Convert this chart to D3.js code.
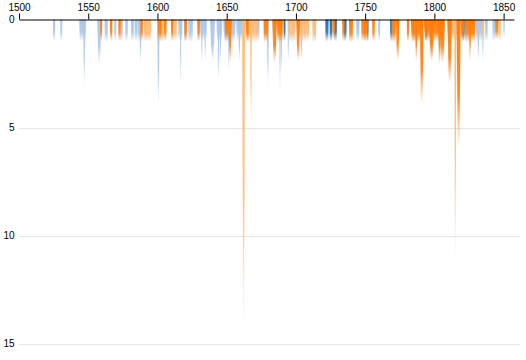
<!DOCTYPE html>
<html>
<head>
<meta charset="utf-8">
<script src="https://cdn.jsdelivr.net/npm/d3@7"></script>
<style>
  body { margin: 0; background: #fff; }
  svg { display: block; font-family: "Liberation Sans", Arial, sans-serif; }
  .axis text { font-size: 10px; fill: #000; }
  .grid line { stroke: #e5e5e5; shape-rendering: crispEdges; }
</style>
</head>
<body>
<div id="chart"></div>
<script>
// tick labels
const yearTicks = [1500, 1550, 1600, 1650, 1700, 1750, 1800, 1850];
const depthTicks = [0, 5, 10, 15];

// categories & colours
const categories = ['lightBlue', 'darkBlue', 'lightOrange', 'orange'];
const colors = ['#aec7e8', '#1f77b4', '#ffbb78', '#ff7f0e'];

// series: [start year, end year, depth]
const lightBlue = [
  [1524.5, 1526.2, 1], [1529.8, 1531.3, 1], [1543.5, 1548.4, 1], [1546.4, 1547.9, 3],
  [1556.5, 1559.4, 2.05], [1561.8, 1564.2, 1.05], [1568.8, 1570.3, 1], [1573.6, 1575, 1],
  [1576.7, 1578.6, 1], [1580.9, 1583, 1], [1583.5, 1585.5, 1], [1585.5, 1587.6, 1],
  [1587, 1588.5, 2], [1591, 1592.5, 1], [1599.9, 1601.5, 3.9], [1603, 1604.5, 1.05],
  [1615, 1618, 1], [1616.3, 1617.2, 2.9], [1619, 1621, 1], [1622.2, 1625.6, 1.05],
  [1630.7, 1635.7, 1], [1631.6, 1632.6, 2], [1634, 1635, 1.9], [1638, 1641.5, 1.9],
  [1642.7, 1646.8, 1], [1643.4, 1644.8, 2.8], [1645, 1646, 2], [1647.5, 1656.4, 1.05],
  [1651, 1652, 2.4], [1656.9, 1662, 1], [1658.5, 1659.8, 2], [1671.3, 1673.7, 1],
  [1679, 1680.5, 3], [1688, 1689, 3.2], [1689, 1690, 2.4], [1694, 1695, 1.9],
  [1703, 1705, 1.9], [1706, 1707, 1], [1743.5, 1745.9, 1], [1759.4, 1760.9, 1],
  [1797, 1799, 2], [1829.9, 1834.7, 1], [1831, 1832.5, 1.9], [1834.5, 1835.5, 1.9],
  [1836.6, 1838.5, 1], [1841.9, 1843.8, 1], [1849.8, 1850.8, 0.8]
];
const darkBlue = [
  [1691, 1692.5, 1], [1721.2, 1723.6, 1], [1724.3, 1726.2, 1], [1727.6, 1729.6, 1],
  [1734.6, 1736.6, 1], [1751.2, 1752.5, 1], [1768, 1769.5, 1], [1793.1, 1795, 1],
  [1820, 1822, 1]
];
const lightOrange = [
  [1590, 1594.8, 1], [1593.4, 1595.3, 1], [1602, 1604.5, 1], [1611.5, 1614, 1],
  [1661.2, 1663.2, 13.9], [1663.2, 1672.8, 1.05], [1667, 1668.2, 4.9],
  [1694.4, 1699.7, 1.05], [1702.6, 1709.8, 1], [1711.8, 1714.7, 1.05], [1784, 1786, 1],
  [1809, 1818.6, 1], [1810, 1811, 2.9], [1814.4, 1815.8, 10.9], [1834, 1836, 1],
  [1846.2, 1848, 1]
];
const orange = [
  [1558.7, 1560.1, 1], [1565.7, 1567.4, 1], [1571.7, 1573.6, 1], [1587.6, 1589.5, 1],
  [1600, 1603, 1], [1604.7, 1606.6, 1], [1609.7, 1611.6, 1], [1619.4, 1621.3, 1],
  [1628.7, 1630.7, 1], [1648.5, 1653.5, 1], [1651.5, 1653.5, 2], [1664, 1666, 1],
  [1676.6, 1680, 1.05], [1682.9, 1686.3, 2], [1686.3, 1690.6, 1.05], [1700.2, 1703, 1.9],
  [1726.2, 1728.2, 0.9], [1733.4, 1735.1, 1], [1738.3, 1741.2, 1.05], [1747.2, 1750.7, 1],
  [1749.3, 1752, 1], [1755.1, 1757, 1], [1769, 1772.2, 1.05], [1772.2, 1774.8, 1.9],
  [1780.1, 1781.8, 1], [1783, 1790.2, 1.05], [1786, 1787.8, 1.9], [1789.5, 1792.2, 3.9],
  [1792.2, 1807.1, 1], [1796, 1800, 1.85], [1802.6, 1805, 2.05], [1804, 1807.7, 2],
  [1809.5, 1812.6, 2.9], [1816, 1819, 5.9], [1819, 1821.5, 1], [1821.7, 1829.9, 1.05],
  [1825, 1826.5, 1.9], [1843.8, 1846.2, 0.9]
];
const series = [lightBlue, darkBlue, lightOrange, orange];

// layout
const width = 526, height = 360;
const margin = {t: 19.5, r: 12, b: 16, l: 19};

const svg = d3.select('#chart').append('svg')
  .attr('width', width)
  .attr('height', height);

const scaleX = d3.scaleLinear()
  .domain([1500, 1857.5])
  .range([margin.l, width - margin.r]);
const scaleY = d3.scaleLinear()
  .domain([0, 15])
  .range([margin.t, 344]);

// gradients, fading towards the bottom of each shape
const defs = svg.append('defs');
categories.forEach((c, i) => {
  const g = defs.append('linearGradient')
    .attr('id', 'grad-' + c)
    .attr('x1', 0).attr('y1', 0).attr('x2', 0).attr('y2', 1);
  g.append('stop').attr('offset', '0%').attr('stop-color', colors[i]).attr('stop-opacity', 1);
  g.append('stop').attr('offset', '60%').attr('stop-color', colors[i]).attr('stop-opacity', 0.9);
  g.append('stop').attr('offset', '100%').attr('stop-color', colors[i]).attr('stop-opacity', 0.03);
});

// grid lines
svg.append('g')
  .attr('class', 'grid')
  .selectAll('line')
  .data(depthTicks.filter(d => d > 0))
  .join('line')
  .attr('x1', margin.l)
  .attr('x2', width - 6)
  .attr('y1', d => Math.round(scaleY(d)) + 0.5)
  .attr('y2', d => Math.round(scaleY(d)) + 0.5);

// y labels
svg.append('g')
  .attr('class', 'axis axis-y')
  .selectAll('text')
  .data(depthTicks)
  .join('text')
  .attr('x', margin.l - 4.5)
  .attr('y', d => scaleY(d))
  .attr('dy', '0.32em')
  .attr('text-anchor', 'end')
  .text(d => d);

// flat-bottomed for short events, tapered for the deep ones
const line = d3.line();
function shape(d) {
  const x0 = scaleX(d[0]), x1 = scaleX(d[1]);
  const y0 = scaleY(0), y1 = scaleY(d[2]);
  const w = x1 - x0;
  const bw = d[2] <= 1.1 ? w * 0.85 : Math.max(0.8, w * 0.4);
  const cx = (x0 + x1) / 2;
  return line([[x0, y0], [x1, y0], [cx + bw / 2, y1], [cx - bw / 2, y1]]) + 'Z';
}

const plot = svg.append('g').attr('class', 'plot');
series.forEach((s, i) => {
  plot.append('g')
    .attr('class', 'series ' + categories[i])
    .selectAll('path')
    .data(s)
    .join('path')
    .attr('d', shape)
    .attr('fill', `url(#grad-${categories[i]})`);
});

// top axis
const axisX = d3.axisTop(scaleX)
  .tickValues(yearTicks)
  .tickSize(6)
  .tickSizeOuter(0)
  .tickFormat(d3.format('d'));
svg.append('g')
  .attr('class', 'axis axis-x')
  .attr('transform', `translate(0,${margin.t})`)
  .call(axisX)
  .call(g => g.select('.domain').attr('stroke', '#000'))
  .call(g => g.selectAll('.tick line').attr('stroke', '#000'));
</script>
</body>
</html>
